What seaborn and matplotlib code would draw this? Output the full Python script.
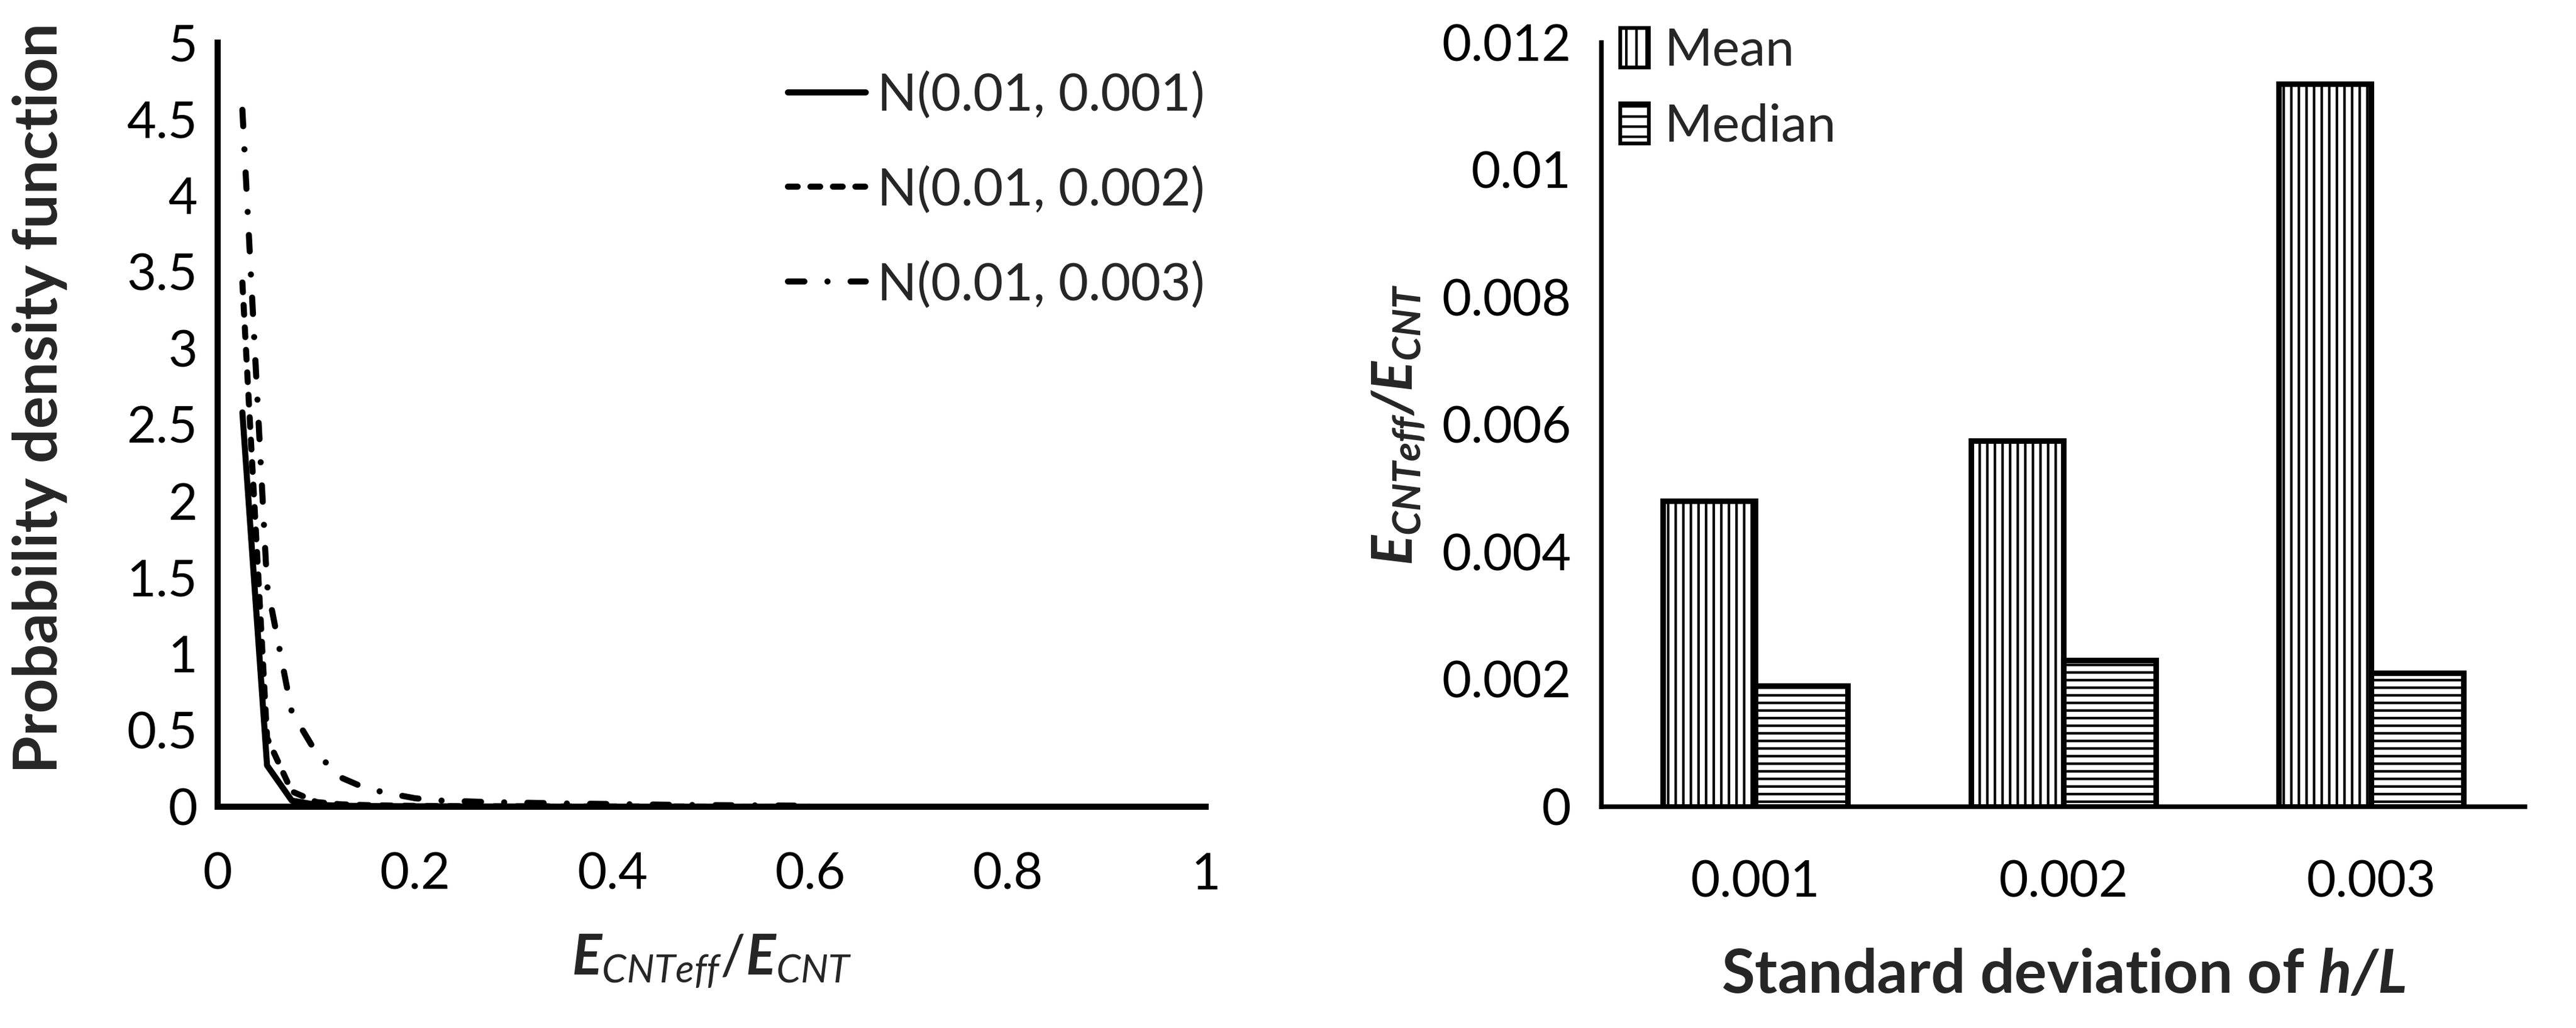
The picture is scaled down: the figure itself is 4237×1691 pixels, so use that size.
import matplotlib
matplotlib.use("Agg")
import matplotlib.pyplot as plt
import seaborn as sns
import pandas as pd
from matplotlib.lines import Line2D
from matplotlib.patches import Patch
from matplotlib.ticker import FuncFormatter, FixedLocator

# ---- data ----
ratio_bins = [0.025, 0.05, 0.075, 0.1, 0.125, 0.15, 0.175, 0.2, 0.225, 0.25,
              0.275, 0.3, 0.325, 0.35, 0.375, 0.4, 0.425, 0.45, 0.475, 0.5,
              0.525, 0.55, 0.575, 0.6]
pdf_sd1 = [2.58, 0.27, 0.04, 0.012, 0.006, 0.004, 0.003, 0.002, 0.002, 0.001,
           0.001, 0.001, 0.001, 0.0, 0.0, 0.0, 0.0, 0.0, 0.0, 0.0,
           0.0, 0.0, 0.0, 0.0]
pdf_sd2 = [3.43, 0.45, 0.10, 0.03, 0.015, 0.01, 0.007, 0.005, 0.004, 0.003,
           0.002, 0.002, 0.002, 0.001, 0.001, 0.001, 0.001, 0.001, 0.001, 0.0,
           0.0, 0.0, 0.0, 0.0]
pdf_sd3 = [4.56, 1.45, 0.62, 0.35, 0.19, 0.12, 0.085, 0.055, 0.04, 0.035,
           0.03, 0.027, 0.024, 0.021, 0.019, 0.017, 0.015, 0.013, 0.011, 0.01,
           0.009, 0.008, 0.007, 0.006]
series_labels = ["N(0.01, 0.001)", "N(0.01, 0.002)", "N(0.01, 0.003)"]

sd_labels = ["0.001", "0.002", "0.003"]
mean_vals = [0.0048, 0.00575, 0.01135]
median_vals = [0.0019, 0.0023, 0.0021]

# ---- style ----
sns.set_theme(style="white")
plt.rcParams["font.family"] = ["Lato", "DejaVu Sans"]
plt.rcParams["mathtext.fontset"] = "custom"
plt.rcParams["mathtext.rm"] = "Lato"
plt.rcParams["mathtext.it"] = "Lato:italic"
plt.rcParams["mathtext.bf"] = "Lato:bold"
plt.rcParams["mathtext.bfit"] = "Lato:bold:italic"
plt.rcParams["hatch.linewidth"] = 1.0

TICK_FS = 20
LEG_FS = 20.5
LABEL_FS = 24

fmt = FuncFormatter(lambda v, p: f"{v:g}")

fig = plt.figure(figsize=(4237 / 300, 1691 / 300), dpi=300)
ax1 = fig.add_axes([0.0845, 0.2153, 0.3835, 0.7433])
ax2 = fig.add_axes([0.6217, 0.2153, 0.3585, 0.7433])

# ---- left: probability density curves ----
styles = [
    dict(linestyle="-"),
    dict(linestyle=(0, (1.6, 2.1)), dash_capstyle="round"),
    dict(linestyle=(0, (2.7, 3.8, 0.01, 3.8)), dash_capstyle="round"),
]
for vals, st in zip([pdf_sd1, pdf_sd2, pdf_sd3], styles):
    sns.lineplot(x=ratio_bins, y=vals, ax=ax1, color="black", lw=2.4,
                 solid_joinstyle="round", **st)

ax1.set_xlim(0, 1)
ax1.set_ylim(0, 5)
ax1.xaxis.set_major_locator(FixedLocator([0, 0.2, 0.4, 0.6, 0.8, 1.0]))
ax1.yaxis.set_major_locator(FixedLocator([0, 0.5, 1, 1.5, 2, 2.5, 3, 3.5, 4, 4.5, 5]))
ax1.xaxis.set_major_formatter(fmt)
ax1.yaxis.set_major_formatter(fmt)
for s in ["top", "right"]:
    ax1.spines[s].set_visible(False)
for s in ["left", "bottom"]:
    ax1.spines[s].set_linewidth(2.4)
    ax1.spines[s].set_color("black")
ax1.tick_params(axis="both", direction="in", length=6.5, width=2.4,
                colors="black", labelsize=TICK_FS)
ax1.tick_params(axis="x", pad=18)
ax1.tick_params(axis="y", pad=8)

ax1.set_ylabel("Probability density function", fontsize=LABEL_FS,
               fontweight="bold")
ax1.yaxis.set_label_coords(-0.152, 0.535)
ax1.set_xlabel(r"$\mathbfit{E}_{\mathit{CNTeff}}/\mathbfit{E}_{\mathit{CNT}}$",
               fontsize=22)
ax1.xaxis.set_label_coords(0.5, -0.165)

handles = [Line2D([], [], color="black", lw=2.4, **st) for st in styles]
ax1.legend(handles, series_labels, loc="upper left",
           bbox_to_anchor=(0.577, 0.962), frameon=False, fontsize=LEG_FS,
           handlelength=1.5, handletextpad=0.22, labelspacing=0.9,
           borderpad=0, borderaxespad=0)

# ---- right: mean / median bars ----
bars = pd.DataFrame({
    "sd": sd_labels * 2,
    "stat": ["Mean"] * 3 + ["Median"] * 3,
    "value": mean_vals + median_vals,
})
sns.barplot(data=bars, x="sd", y="value", hue="stat", ax=ax2,
            palette=["white", "white"], saturation=1, width=0.6,
            edgecolor="black", linewidth=2.2, legend=False)
for cont, hatch in zip(ax2.containers, ["||||", "----"]):
    for bar in cont:
        bar.set_hatch(hatch)

ax2.set_xlim(-0.5, 2.5)
ax2.set_ylim(0, 0.012)
ax2.yaxis.set_major_locator(FixedLocator([0, 0.002, 0.004, 0.006, 0.008, 0.01, 0.012]))
ax2.yaxis.set_major_formatter(fmt)
ax2.xaxis.set_minor_locator(FixedLocator([-0.5, 0.5, 1.5, 2.5]))
for s in ["top", "right"]:
    ax2.spines[s].set_visible(False)
for s in ["left", "bottom"]:
    ax2.spines[s].set_linewidth(1.8)
    ax2.spines[s].set_color("black")
ax2.tick_params(axis="y", direction="in", length=5, width=1.8,
                colors="black", labelsize=TICK_FS, pad=12)
ax2.tick_params(axis="x", which="major", length=0, labelsize=TICK_FS,
                colors="black", pad=21)
ax2.tick_params(axis="x", which="minor", direction="in", length=5, width=1.8,
                colors="black")

ax2.set_xlabel(r"Standard deviation of $\mathbfit{h/L}$", fontsize=LABEL_FS,
               fontweight="bold")
ax2.xaxis.set_label_coords(0.5, -0.185)
ax2.set_ylabel(r"$\mathbfit{E_{CNTeff}/E_{CNT}}$", fontsize=22)
ax2.yaxis.set_label_coords(-0.19, 0.50)

leg_handles = [
    Patch(facecolor="white", edgecolor="black", hatch="|||", lw=1.5, label="Mean"),
    Patch(facecolor="white", edgecolor="black", hatch="---", lw=1.5, label="Median"),
]
ax2.legend(handles=leg_handles, loc="upper left", bbox_to_anchor=(0.02, 1.02),
           frameon=False, fontsize=LEG_FS, handlelength=0.55, handleheight=0.8,
           handletextpad=0.3, labelspacing=0.55, borderpad=0, borderaxespad=0)

fig.savefig("out.png", dpi=300)
